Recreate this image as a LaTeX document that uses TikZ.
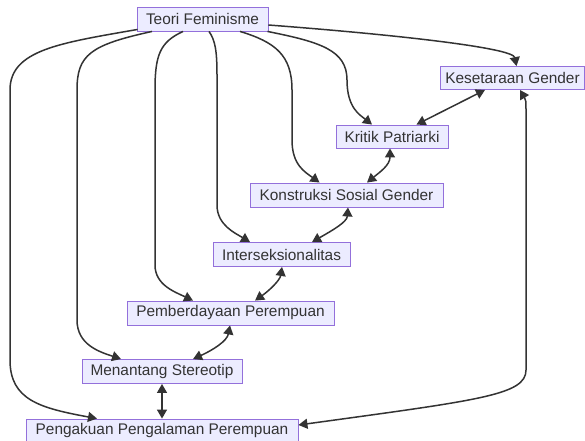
\documentclass[tikz,border=0pt]{standalone}
\usepackage{fontspec}
\setmainfont{Liberation Sans}
\usetikzlibrary{arrows.meta}
\definecolor{boxfill}{HTML}{ECECFF}
\definecolor{boxline}{HTML}{9370DB}
\definecolor{wire}{HTML}{333333}
\begin{document}
\begin{tikzpicture}[x=1pt,y=-1pt,
  concept/.style={draw=boxline,fill=boxfill,line width=0.9pt,minimum height=24pt,
    inner sep=0pt,font=\fontsize{15.4}{18}\selectfont,text=wire},
  tip/.style={Triangle[length=9pt,width=10pt]},
  link/.style={draw=wire,line width=1.5pt,-{Triangle[length=9pt,width=10pt]}},
  dlink/.style={draw=wire,line width=1.5pt,{Triangle[length=9pt,width=10pt]}-{Triangle[length=9pt,width=10pt]}}]
\useasboundingbox[fill=white] (0,0) rectangle (585,440);

% concepts
\node[concept,minimum width=131pt] (teori) at (202.5,19) {Teori Feminisme};
\node[concept,minimum width=144pt,minimum height=23pt] (kes) at (512.5,78) {Kesetaraan Gender};
\node[concept,minimum width=112pt,minimum height=23pt] (kritik) at (392,136.5) {Kritik Patriarki};
\node[concept,minimum width=193pt] (konst) at (346.5,195) {Konstruksi Sosial Gender};
\node[concept,minimum width=137pt] (inter) at (281.5,254.5) {Interseksionalitas};
\node[concept,minimum width=207pt] (pember) at (230.5,313) {Pemberdayaan Perempuan};
\node[concept,minimum width=160pt] (ment) at (162,371.5) {Menantang Stereotip};
\node[concept,minimum width=272pt] (peng) at (162,431) {Pengakuan Pengalaman Perempuan};

% fan-out from the root concept
\draw[link] ([yshift=-6pt]teori.east) .. controls (400,35) and (513,48) .. ([xshift=4pt]kes.north);
\draw[link] ([xshift=65pt]teori.south) .. controls (320,42) and (347,50) .. (347,80)
  .. controls (347,108) and (360,115) .. ([xshift=-20pt]kritik.north);
\draw[link] ([xshift=37.5pt]teori.south) .. controls (275,42) and (292,55) .. (292,90)
  -- (292,140) .. controls (292,165) and (305,172) .. ([xshift=-27pt]konst.north);
\draw[link] ([xshift=6.5pt]teori.south) .. controls (215,40) and (217,50) .. (217,75)
  -- (217,205) .. controls (217,225) and (235,233) .. ([xshift=-31.5pt]inter.north);
\draw[link] ([xshift=-19.5pt]teori.south) .. controls (160,42) and (155,55) .. (155,90)
  -- (155,265) .. controls (155,285) and (175,292) .. ([xshift=-37.5pt]pember.north);
\draw[link] ([xshift=-50.5pt]teori.south) .. controls (90,45) and (77,55) .. (77,90)
  -- (77,320) .. controls (77,345) and (100,352) .. ([xshift=-41pt]ment.north);
\draw[link] ([xshift=1pt,yshift=2pt]teori.south west) .. controls (60,43) and (10,50) .. (10,90)
  -- (10,360) .. controls (10,400) and (40,408) .. ([xshift=-65pt]peng.north);

% chain of mutual links
\draw[dlink] ([xshift=-27.5pt]kes.south) -- ([xshift=24.5pt]kritik.north);
\draw[dlink] ([xshift=-2pt]kritik.south) .. controls (390,165) and (380,172) .. ([xshift=20.5pt]konst.north);
\draw[dlink] ([xshift=1.5pt]konst.south) .. controls (347,222) and (333,230) .. ([xshift=30.5pt]inter.north);
\draw[dlink] ([xshift=0.5pt]inter.south) .. controls (280,280) and (270,290) .. ([xshift=24.5pt]pember.north);
\draw[dlink] ([xshift=-0.5pt]pember.south) .. controls (227,341) and (213,350) .. ([xshift=31pt]ment.north);
\draw[dlink] (ment.south) -- (peng.north);
\draw[dlink] ([yshift=6pt]peng.east) .. controls (480,400) and (526,395) .. (526,370)
  -- (526,115) .. controls (526,100) .. ([xshift=7.5pt]kes.south);
\end{tikzpicture}
\end{document}
